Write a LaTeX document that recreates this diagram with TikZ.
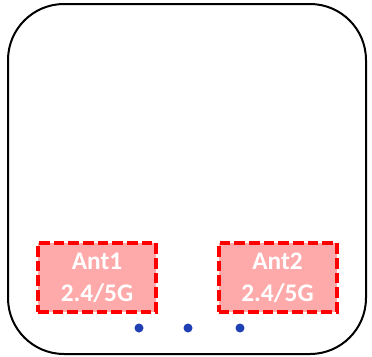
\documentclass[tikz,border=0pt]{standalone}
\usepackage{fontspec}
\setmainfont{Carlito}
\usepackage{xcolor}
\definecolor{antfill}{RGB}{255,170,170}
\definecolor{antred}{RGB}{255,0,0}
\definecolor{ledblue}{RGB}{31,64,181}
\tikzset{
	antbox/.style = {draw = antred, fill = antfill, line width = 3pt, dash pattern = on 8pt off 3pt, minimum width = 88.5pt, minimum height = 51.75pt, text = white, font = \fontsize{19}{24}\selectfont\bfseries, align = center, inner sep = 0pt},
	led/.style = {circle, fill = ledblue, minimum size = 6.75pt, inner sep = 0pt},
}
\begin{document}
\begin{tikzpicture}[x = 0.75pt, y = -0.75pt]
			\useasboundingbox (0,0) rectangle (372,357);
			\draw[line width = 1.5pt, rounded corners = 42pt] (8,4) rectangle (366,354);
			
			
			\node[antbox] (ant1) at (97,277.5) {Ant1\\2.4/5G};
			\node[antbox] (ant2) at (277.5,277.5) {Ant2\\2.4/5G};
			
			\node[led] (led1) at (139,328) {};
			\node[led] (led2) at (188,328) {};
			\node[led] (led3) at (240,328) {};
		\end{tikzpicture}
\end{document}
